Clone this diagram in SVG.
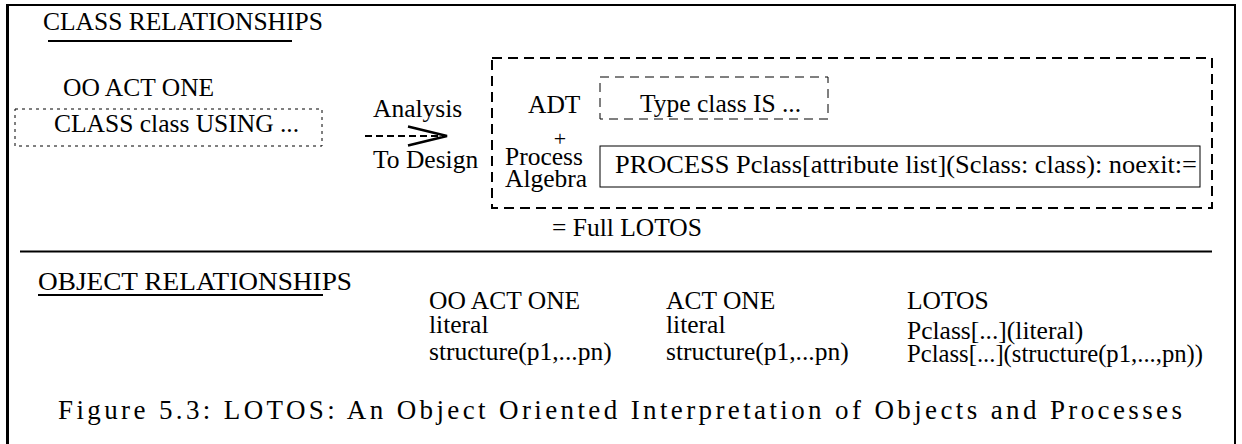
<svg xmlns="http://www.w3.org/2000/svg" width="1242" height="444" viewBox="0 0 1242 444">
<style>
text{font-family:"Liberation Serif","Times New Roman",serif;font-size:25.5px;fill:#000}
.frame{stroke:#000;fill:none}
.rule{stroke:#000;stroke-width:2}
.dotted{fill:none;stroke:#000;stroke-width:1;stroke-dasharray:3 4}
.dashthin{fill:none;stroke:#000;stroke-width:1;stroke-dasharray:9 6}
.dashthick{fill:none;stroke:#000;stroke-width:2;stroke-dasharray:10 6}
.solid{fill:none;stroke:#000;stroke-width:1}
.cap{font-size:27px}
.small{font-size:22px}
</style>
<defs>
<marker id="chev" markerUnits="userSpaceOnUse" markerWidth="44" markerHeight="24" refX="40" refY="11" orient="auto" viewBox="0 0 44 24">
<path d="M1,1.5 L40,11 L1,20.5" fill="none" stroke="#000" stroke-width="2.5"/>
</marker>
</defs>
<rect width="1242" height="444" fill="#fff"/>
<g id="frame">
<line class="frame" x1="6" y1="5" x2="1236" y2="5" stroke-width="2"/>
<line class="frame" x1="7.5" y1="4" x2="7.5" y2="444" stroke-width="3"/>
<line class="frame" x1="1235" y1="4" x2="1235" y2="444" stroke-width="2"/>
</g>
<g id="class-heading">
<text x="43" y="30">CLASS RELATIONSHIPS</text>
<line class="rule" x1="48" y1="41" x2="292" y2="41"/>
</g>
<g id="oo-act-one">
<text x="63" y="96">OO ACT ONE</text>
<rect class="dotted" x="15" y="109" width="307" height="37"/>
<text x="54" y="132">CLASS class USING ...</text>
</g>
<g id="transition-labels">
<text x="373" y="117">Analysis</text>
<text x="373" y="168">To Design</text>
</g>
<g id="full-lotos">
<rect class="dashthick" x="492" y="58" width="720" height="150"/>
<text x="528" y="113">ADT</text>
<text class="small" x="560" y="146" text-anchor="middle">+</text>
<text x="505" y="165">Process</text>
<text x="505" y="187">Algebra</text>
<text x="552" y="236">= Full LOTOS</text>
</g>
<g id="type-class">
<rect class="dashthin" x="600" y="77" width="228" height="42"/>
<text x="640" y="112">Type class IS ...</text>
</g>
<g id="process-class">
<rect class="solid" x="600" y="146" width="600" height="41"/>
<text x="615" y="173" textLength="582" lengthAdjust="spacingAndGlyphs">PROCESS Pclass[attribute list](Sclass: class): noexit:=</text>
</g>
<g id="connectors">
<line x1="365" y1="136" x2="447" y2="136" stroke="#000" stroke-width="2" stroke-dasharray="7 4" marker-end="url(#chev)"/>
</g>
<g id="divider">
<line class="rule" x1="20" y1="251.5" x2="1212" y2="251.5"/>
</g>
<g id="object-heading">
<text x="38" y="290" textLength="314" lengthAdjust="spacingAndGlyphs">OBJECT RELATIONSHIPS</text>
<line class="rule" x1="38" y1="295" x2="323" y2="295"/>
</g>
<g id="col-oo-act-one">
<text x="429" y="309">OO ACT ONE</text>
<text x="429" y="333">literal</text>
<text x="429" y="360">structure(p1,...pn)</text>
</g>
<g id="col-act-one">
<text x="666" y="309">ACT ONE</text>
<text x="666" y="333">literal</text>
<text x="666" y="360">structure(p1,...pn)</text>
</g>
<g id="col-lotos">
<text x="907" y="309">LOTOS</text>
<text x="907" y="339">Pclass[...](literal)</text>
<text x="907" y="362" textLength="296" lengthAdjust="spacingAndGlyphs">Pclass[...](structure(p1,...,pn))</text>
</g>
<g id="caption">
<text class="cap" x="58" y="419" textLength="1124" lengthAdjust="spacing">Figure 5.3: LOTOS: An Object Oriented Interpretation of Objects and Processes</text>
</g>
</svg>
